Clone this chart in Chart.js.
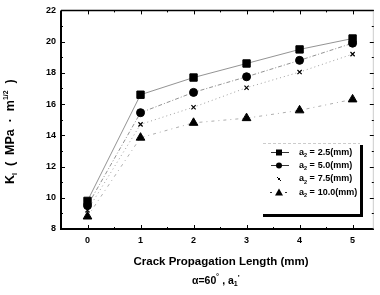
<!DOCTYPE html>
<html><head><meta charset="utf-8">
<script src="https://cdn.jsdelivr.net/npm/chart.js@4/dist/chart.umd.min.js"></script>
<style>html,body{margin:0;padding:0;background:#fff}#wrap{width:380px;height:295px}</style>
</head><body><div id="wrap"><canvas id="c" width="380" height="295"></canvas></div>
<script>
const crackLength = [0, 1, 2, 3, 4, 5];
const a2_25  = [9.8, 16.6, 17.7, 18.6, 19.5, 20.2];
const a2_50  = [9.5, 15.45, 16.75, 17.75, 18.8, 19.9];
const a2_75  = [9.2, 14.7, 15.8, 17.05, 18.05, 19.2];
const a2_100 = [8.8, 13.85, 14.8, 15.1, 15.6, 16.3];
const seriesLabels = ["2.5(mm)", "5.0(mm)", "7.5(mm)", "10.0(mm)"];
const xTickValues = [0, 1, 2, 3, 4, 5];
const xMinorValues = [-0.5, 0.5, 1.5, 2.5, 3.5, 4.5];
const yTickValues = [8, 10, 12, 14, 16, 18, 20, 22];
const yMinorValues = [9, 11, 13, 15, 17, 19, 21];
const xTitle = "Crack Propagation Length (mm)";

const FONT = "'Liberation Sans', Arial, sans-serif";
const pts = arr => arr.map((v, i) => ({x: crackLength[i], y: v}));

const styles = [
  {pointStyle: 'rect', pointRadius: 5.2, borderDash: [], lineColor: '#777'},
  {pointStyle: 'circle', pointRadius: 4, borderDash: [4, 2, 1, 2], lineColor: '#777'},
  {pointStyle: 'crossRot', pointRadius: 3, borderDash: [1, 3], lineColor: '#888'},
  {pointStyle: 'triangle', pointRadius: 5, borderDash: [3, 4, 1, 4], lineColor: '#999'}
];
const dataArrays = [a2_25, a2_50, a2_75, a2_100];

const datasets = dataArrays.map((arr, i) => ({
  label: seriesLabels[i],
  data: pts(arr),
  showLine: true,
  borderColor: styles[i].lineColor,
  borderWidth: 0.8,
  borderDash: styles[i].borderDash,
  pointStyle: styles[i].pointStyle,
  pointRadius: styles[i].pointRadius,
  pointBackgroundColor: '#000',
  pointBorderColor: '#000',
  pointBorderWidth: i === 2 ? 1.2 : 1,
  tension: 0
}));

const decor = {
  id: 'decor',
  afterDraw(chart) {
    const ctx = chart.ctx;
    const xs = chart.scales.x, ys = chart.scales.y;
    const a = chart.chartArea;
    ctx.save();
    ctx.strokeStyle = '#000';
    ctx.lineWidth = 2;
    ctx.beginPath(); ctx.moveTo(a.left, a.top); ctx.lineTo(a.left, a.bottom); ctx.lineTo(a.right, a.bottom); ctx.stroke();
    ctx.lineWidth = 1.5;
    ctx.beginPath(); ctx.moveTo(a.left, a.top); ctx.lineTo(a.right, a.top); ctx.stroke();
    ctx.lineWidth = 0.6;
    ctx.strokeStyle = '#aaa';
    ctx.beginPath(); ctx.moveTo(a.right - 0.5, a.top); ctx.lineTo(a.right - 0.5, a.bottom); ctx.stroke();
    ctx.strokeStyle = '#000';
    ctx.lineWidth = 1;
    const tick = (vals, len) => {
      vals.forEach(v => {
        const px = Math.round(xs.getPixelForValue(v)) + 0.5;
        ctx.beginPath(); ctx.moveTo(px, a.bottom); ctx.lineTo(px, a.bottom - len); ctx.stroke();
        ctx.beginPath(); ctx.moveTo(px, a.top); ctx.lineTo(px, a.top + len); ctx.stroke();
      });
    };
    tick(xTickValues, 4); tick(xMinorValues, 2);
    const ytick = (vals, len) => {
      vals.forEach(v => {
        const py = Math.round(ys.getPixelForValue(v)) + 0.5;
        ctx.beginPath(); ctx.moveTo(a.left, py); ctx.lineTo(a.left + len, py); ctx.stroke();
        ctx.beginPath(); ctx.moveTo(a.right, py); ctx.lineTo(a.right - len, py); ctx.stroke();
      });
    };
    ytick(yTickValues, 4); ytick(yMinorValues, 2);

    // y title
    ctx.fillStyle = '#000';
    ctx.save();
    ctx.translate(14, 184);
    ctx.rotate(-Math.PI / 2);
    ctx.textBaseline = 'alphabetic';
    ctx.textAlign = 'left';
    let cx = 0;
    const put = (t, size, dy) => {
      ctx.font = 'bold ' + size + 'px ' + FONT;
      ctx.fillText(t, cx, dy);
      cx += ctx.measureText(t).width;
    };
    put('K', 12.5, 0); put('I', 7, 3); put('  (  MPa  \u00B7  m', 12.5, 0); put('1/2', 7, -6); put('  )', 12.5, 0);
    ctx.restore();

    // x title
    ctx.textAlign = 'center';
    ctx.textBaseline = 'middle';
    ctx.font = 'bold 11.5px ' + FONT;
    ctx.fillText(xTitle, 221, 262);
    ctx.textAlign = 'left';
    let sx = 192;
    const put2 = (t, size, dy) => {
      ctx.font = 'bold ' + size + 'px ' + FONT;
      ctx.fillText(t, sx, 281 + dy);
      sx += ctx.measureText(t).width;
    };
    put2('\u03B1=60', 10.5, 0); put2('\u02DA', 9, -2); put2(' , a', 10.5, 0); put2('1', 7, 3); put2("'", 8, -3);

    // legend
    const lx = 263, ly = 143, lw = 97, lh = 71;
    ctx.fillStyle = '#fff';
    ctx.fillRect(lx, ly, lw, lh);
    ctx.strokeStyle = '#aaa'; ctx.lineWidth = 0.6; ctx.setLineDash([3, 2]);
    ctx.beginPath(); ctx.moveTo(lx, ly + 0.5); ctx.lineTo(lx + lw, ly + 0.5); ctx.stroke();
    ctx.setLineDash([]);
    ctx.strokeStyle = '#000'; ctx.lineWidth = 3;
    ctx.beginPath(); ctx.moveTo(lx + lw + 1.5, ly + 2); ctx.lineTo(lx + lw + 1.5, ly + lh + 1.5); ctx.lineTo(lx, ly + lh + 1.5); ctx.stroke();
    const rows = [152.5, 165.5, 179, 192.5];
    chart.data.datasets.forEach((ds, i) => {
      const y = rows[i];
      const mx = 279;
      ctx.strokeStyle = '#000'; ctx.lineWidth = 0.8;
      if (i < 2) { ctx.beginPath(); ctx.moveTo(mx - 8, y); ctx.lineTo(mx + 10, y); ctx.stroke(); }
      if (i === 3) { ctx.setLineDash([2, 3]); ctx.beginPath(); ctx.moveTo(mx - 9, y); ctx.lineTo(mx + 9, y); ctx.stroke(); ctx.setLineDash([]); }
      ctx.fillStyle = '#000';
      if (i === 0) ctx.fillRect(mx - 3, y - 3, 6, 6);
      if (i === 1) { ctx.beginPath(); ctx.arc(mx, y, 3, 0, Math.PI * 2); ctx.fill(); }
      if (i === 2) { ctx.lineWidth = 1; ctx.beginPath(); ctx.moveTo(mx - 2, y - 2); ctx.lineTo(mx + 2, y + 2); ctx.moveTo(mx - 1, y + 1); ctx.lineTo(mx + 1, y - 1); ctx.stroke(); }
      if (i === 3) { ctx.fillStyle = '#fff'; ctx.fillRect(mx - 5, y - 5, 10, 9); ctx.fillStyle = '#000'; ctx.beginPath(); ctx.moveTo(mx, y - 4); ctx.lineTo(mx + 4, y + 3); ctx.lineTo(mx - 4, y + 3); ctx.closePath(); ctx.fill(); }
      ctx.textBaseline = 'middle'; ctx.textAlign = 'left';
      let tx = 299;
      ctx.font = 'bold 9px ' + FONT; ctx.fillText('a', tx, y); tx += ctx.measureText('a').width;
      ctx.font = 'bold 5.5px ' + FONT; ctx.fillText('2', tx, y + 3); tx += ctx.measureText('2').width + 2.5;
      ctx.font = 'bold 9px ' + FONT; ctx.fillText('=', tx, y); tx += ctx.measureText('=').width + 3;
      ctx.fillText(ds.label, tx, y);
    });
    ctx.restore();
  }
};

new Chart(document.getElementById('c'), {
  type: 'line',
  data: {datasets},
  plugins: [decor],
  options: {
    responsive: false,
    animation: false,
    layout: {padding: {top: 10, right: 1, left: 0, bottom: 0}},
    plugins: {legend: {display: false}, tooltip: {enabled: false}},
    scales: {
      x: {
        type: 'linear', min: -0.5, max: 5.4,
        afterBuildTicks: s => { s.ticks = xTickValues.map(v => ({value: v})); },
        afterFit: s => { s.height = 66; },
        grid: {display: false, drawTicks: false},
        border: {display: false},
        ticks: {color: '#000', font: {family: FONT, size: 9, weight: 'bold'}, padding: 6, maxRotation: 0}
      },
      y: {
        min: 8, max: 22,
        afterBuildTicks: s => { s.ticks = yTickValues.map(v => ({value: v})); },
        afterFit: s => { s.width = 61; },
        grid: {display: false, drawTicks: false},
        border: {display: false},
        ticks: {color: '#000', font: {family: FONT, size: 9, weight: 'bold'}, padding: 5}
      }
    }
  }
});
</script></body></html>
